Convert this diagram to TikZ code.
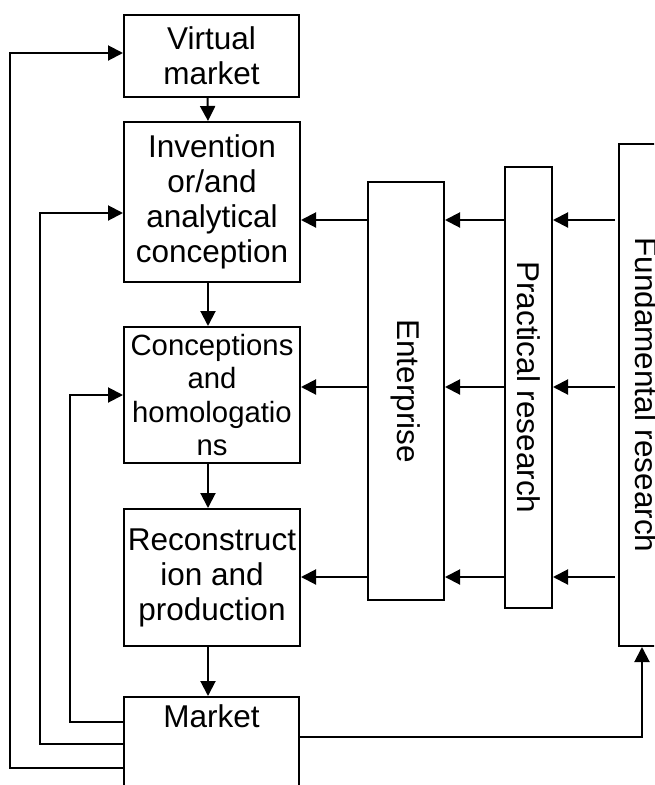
\documentclass[tikz,border=0pt]{standalone}
\usepackage{fontspec}
\setmainfont{Liberation Sans}
\usetikzlibrary{arrows.meta}
\begin{document}
\begin{tikzpicture}[x=1pt,y=-1pt,
  box/.style={draw, line width=2pt, inner sep=0pt, align=center, font=\fontsize{31.5}{35}\selectfont},
  smallbox/.style={box, font=\fontsize{29.3}{33.5}\selectfont},
  arr/.style={line width=2pt, -{Triangle[length=15pt,width=15pt]}}]
\useasboundingbox (0,0) rectangle (654,785);
\fill[white] (0,0) rectangle (654,785);
\begin{scope}
\clip (0,0) rectangle (654,785);
% left column
\node[box, minimum width=175pt, minimum height=82pt] (vm) at (211.5,56) {Virtual\\market};
\node[box, minimum width=176pt, minimum height=160pt] (inv) at (212,202) {Invention\\or/and\\analytical\\conception};
\node[smallbox, minimum width=176pt, minimum height=136pt] (con) at (212,395) {Conceptions\\and\\homologatio\\ns};
\node[box, minimum width=176pt, minimum height=137pt] (rec) at (212,577.5) {Reconstruct\\ion and\\production};
\node[box, anchor=north, minimum width=175pt, text height=30pt, text depth=90pt] (mkt) at (211.5,696) {Market};
% right columns
\node[box, minimum width=76pt, minimum height=418pt] (ent) at (406,391) {\rotatebox{-90}{Enterprise}};
\node[box, minimum width=47pt, minimum height=441pt] (pra) at (528.5,387.5) {\rotatebox{-90}{Practical research}};
\node[box, minimum width=55pt, minimum height=502pt] (fun) at (646.5,395) {\rotatebox{-90}{Fundamental research}};
% vertical flow
\draw[arr] ([xshift=-4pt]vm.south) -- ([xshift=-4pt]inv.north);
\draw[arr] ([xshift=-4pt]inv.south) -- ([xshift=-4pt]con.north);
\draw[arr] ([xshift=-4pt]con.south) -- ([xshift=-4pt]rec.north);
\draw[arr] ([xshift=-4pt]rec.south) -- ([xshift=-3.5pt]mkt.north);
% horizontal rows
\foreach \yy/\tgt in {220/inv, 387/con, 577/rec}{
  \draw[arr] (ent.west |- 0,\yy) -- (\tgt.east |- 0,\yy);
  \draw[arr] (pra.west |- 0,\yy) -- (ent.east |- 0,\yy);
  \draw[arr] ([xshift=-3pt]fun.west |- 0,\yy) -- (pra.east |- 0,\yy);
}
% feedback loops
\draw[arr] (mkt.west |- 0,722) -- ++(-53,0) |- (con.west |- 0,395);
\draw[arr] (mkt.west |- 0,744) -- ++(-83,0) |- (inv.west |- 0,213);
\draw[arr] (mkt.west |- 0,768) -- ++(-113,0) |- (vm.west |- 0,53);
\draw[arr] (mkt.east |- 0,737) -| (fun.south -| 642,0);
\end{scope}
\end{tikzpicture}
\end{document}
